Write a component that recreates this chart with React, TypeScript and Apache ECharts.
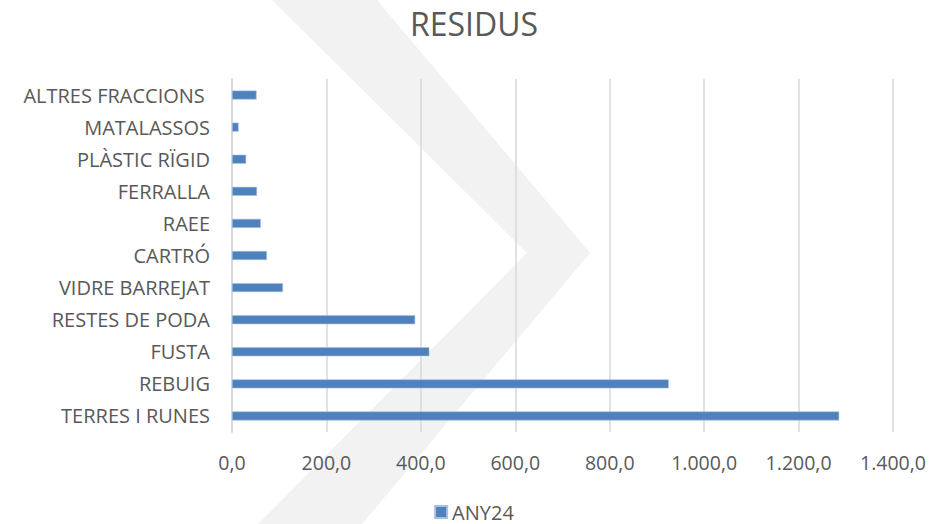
import React, { useEffect, useRef } from "react";
import * as echarts from "echarts";

const categories = [
  "TERRES I RUNES",
  "REBUIG",
  "FUSTA",
  "RESTES DE PODA",
  "VIDRE BARREJAT",
  "CARTRÓ",
  "RAEE",
  "FERRALLA",
  "PLÀSTIC RÏGID",
  "MATALASSOS",
  "ALTRES FRACCIONS ",
];
const any24 = [1286, 925, 418, 388, 108, 74, 61, 53, 30, 14, 52];
const seriesName = "ANY24";
const titleText = "RESIDUS";

function fmt(v: number): string {
  const s = Math.round(v).toString();
  const withDots = s.replace(/\B(?=(\d{3})+(?!\d))/g, ".");
  return withDots + ",0";
}

export default function App() {
  const ref = useRef<HTMLDivElement>(null);
  useEffect(() => {
    if (!ref.current) return;
    const chart = echarts.init(ref.current, null, { renderer: "svg" });
    const font = "Open Sans";
    chart.setOption({
      animation: false,
      backgroundColor: "#ffffff",
      graphic: [
        {
          type: "polygon",
          z: -10,
          silent: true,
          shape: {
            points: [
              [272, 0],
              [377, 0],
              [590, 253],
              [362, 524],
              [258, 524],
              [527, 253],
            ],
          },
          style: { fill: "#f2f2f2" },
        },
      ],
      title: {
        text: titleText,
        left: "center",
        top: 2,
        textStyle: {
          fontFamily: font,
          fontSize: 32,
          fontWeight: "normal",
          color: "#595959",
        },
      },
      legend: {
        top: 502,
        left: "center",
        itemWidth: 12,
        itemHeight: 12,
        itemGap: 10,
        icon: "rect",
        padding: 0,
        textStyle: { fontFamily: font, fontSize: 20, lineHeight: 20, color: "#595959" },
        data: [seriesName],
      },
      grid: { left: 232, right: 55, top: 79, bottom: 92, containLabel: false },
      xAxis: {
        type: "value",
        min: 0,
        max: 1400,
        interval: 200,
        axisLine: { show: false },
        axisTick: { show: false },
        splitLine: { lineStyle: { color: "#d9d9d9", width: 1.5 } },
        axisLabel: {
          formatter: (v: number) => fmt(v),
          fontFamily: font,
          fontSize: 19.5,
          color: "#595959",
          margin: 20,
        },
      },
      yAxis: {
        type: "category",
        data: categories,
        axisLine: { show: true, lineStyle: { color: "#d9d9d9", width: 2 } },
        axisTick: { show: false },
        axisLabel: {
          fontFamily: font,
          fontSize: 20,
          color: "#595959",
          margin: 22,
        },
      },
      series: [
        {
          name: seriesName,
          type: "bar",
          data: any24,
          barWidth: 9,
          itemStyle: { color: "#4f81bd", borderColor: "#a7c0de", borderWidth: 0.6 },
        },
      ],
    });
    return () => chart.dispose();
  }, []);
  return (
    <div
      ref={ref}
      style={{ position: "fixed", left: 0, top: 0, width: 948, height: 524 }}
    />
  );
}
